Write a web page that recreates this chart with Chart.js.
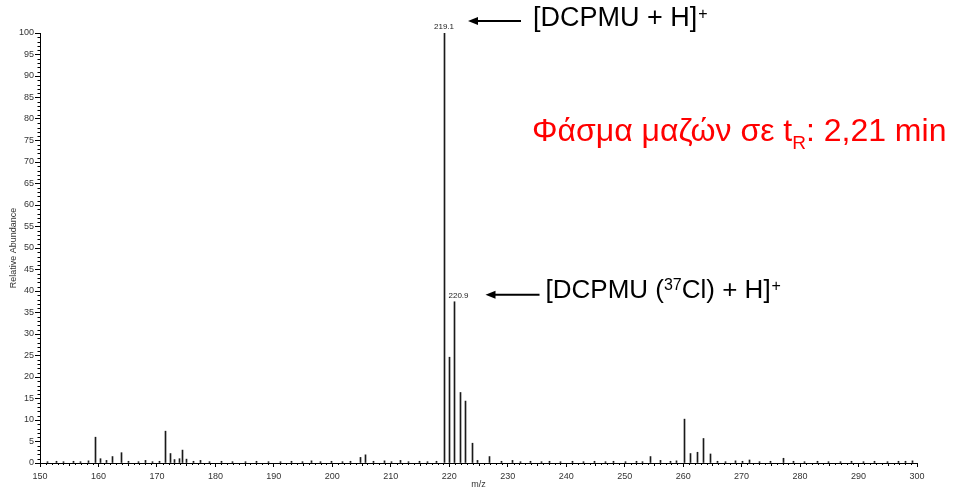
<!DOCTYPE html>
<html>
<head>
<meta charset="utf-8">
<script src="https://cdn.jsdelivr.net/npm/chart.js@4"></script>
<style>
html,body{margin:0;padding:0;background:#fff;}
canvas{display:block;}
</style>
</head>
<body>
<canvas id="c" width="953" height="491" style="width:953px;height:491px"></canvas>
<script>
// ---- data ----
const mzValues = [
  151.2, 152.9, 154.1, 155.8, 157.0, 158.3,
  159.5, 160.3, 161.3, 162.4, 164.0, 165.2, 166.9, 168.0, 169.2, 170.4,
  171.5, 172.4, 173.0, 173.8, 174.4, 175.1, 176.2, 177.5, 179.0, 181.1, 183.0, 185.2, 187.1, 189.0, 191.2, 193.1, 194.9, 196.4, 198.0, 199.9, 201.8, 203.1,
  204.8, 205.6, 207.1, 209.0, 210.1, 211.6, 213.0, 214.9, 216.2, 217.9,
  219.1, 220.1, 220.9, 222.0, 222.7, 223.9, 224.9, 226.8, 228.9, 230.8, 232.1, 233.9, 235.8, 237.2, 239.0, 241.1, 243.0, 244.9, 246.8, 248.1, 250.2, 252.0, 253.1,
  254.5, 256.2, 257.9, 258.8,
  260.3, 261.2, 262.4, 263.4, 264.6, 265.8, 267.2, 269.0, 270.1, 271.3, 273.0, 274.9, 277.2, 278.9, 280.8, 282.9, 284.8, 286.9, 288.8, 290.9, 292.8, 294.9, 296.8, 298.1, 299.2
];
const abundances = [
  0.3, 0.4, 0.3, 0.4, 0.3, 0.5,
  6.0, 1.0, 0.6, 1.5, 2.4, 0.4, 0.3, 0.6, 0.3, 0.4,
  7.4, 2.2, 0.8, 1.0, 3.0, 0.9, 0.4, 0.6, 0.3, 0.4, 0.3, 0.3, 0.4, 0.3, 0.3, 0.4, 0.3, 0.5, 0.3, 0.4, 0.3, 0.4,
  1.3, 1.9, 0.4, 0.5, 0.3, 0.6, 0.3, 0.4, 0.3, 0.4,
  100, 24.6, 37.5, 16.4, 14.4, 4.6, 0.6, 1.5, 0.4, 0.6, 0.3, 0.4, 0.3, 0.4, 0.3, 0.4, 0.3, 0.4, 0.3, 0.4, 0.3, 0.4, 0.3,
  1.5, 0.6, 0.4, 0.5,
  10.2, 2.2, 2.5, 5.7, 2.1, 0.4, 0.3, 0.5, 0.4, 0.7, 0.3, 0.4, 1.1, 0.4, 0.3, 0.4, 0.3, 0.3, 0.4, 0.3, 0.4, 0.3, 0.4, 0.4, 0.5
];
const xTickValues = [150,160,170,180,190,200,210,220,230,240,250,260,270,280,290,300];
const yTickValues = [0,5,10,15,20,25,30,35,40,45,50,55,60,65,70,75,80,85,90,95,100];
const labelledPeaks = [219.1, 220.9];
const labelledValues = [100, 37.5];
const annotationTexts = ['[DCPMU + H]', '[DCPMU (', '37', 'Cl) + H]'];
const titleMain = 'Φάσμα μαζών σε t';
const titleSub = 'R';
const titleTail = ': 2,21 min';

const FONT = '"Liberation Sans", Arial, sans-serif';

const crispBars = {
  id: 'crispBars',
  beforeDatasetsDraw(chart) {
    chart.getDatasetMeta(0).data.forEach(el => { el.x = Math.floor(el.x) + 0.5; });
  }
};

const minorTicks = {
  id: 'minorTicks',
  afterDraw(chart) {
    const {ctx, scales: {x, y}} = chart;
    ctx.save();
    ctx.strokeStyle = '#000';
    ctx.lineWidth = 1;
    ctx.beginPath();
    const left = Math.round(x.left) + 0.5;
    for (let v = 0; v <= 100; v++) {
      if (v % 5 === 0) continue;
      const py = Math.round(y.getPixelForValue(v)) + 0.5;
      ctx.moveTo(left - 3, py); ctx.lineTo(left, py);
    }
    const base = Math.round(y.getPixelForValue(0));
    for (let m = 150; m <= 300; m++) {
      if (m % 10 === 0) continue;
      const px = Math.round(x.getPixelForValue(m)) + 0.5;
      ctx.moveTo(px, base); ctx.lineTo(px, base + (m % 5 === 0 ? 3 : 2));
    }
    ctx.stroke();
    ctx.restore();
  }
};

function arrow(ctx, x1, x2, yy) {
  ctx.beginPath();
  ctx.lineWidth = 2;
  ctx.strokeStyle = '#000';
  ctx.moveTo(x2, yy); ctx.lineTo(x1 + 7, yy); ctx.stroke();
  ctx.beginPath();
  ctx.fillStyle = '#000';
  ctx.moveTo(x1, yy); ctx.lineTo(x1 + 10, yy - 4); ctx.lineTo(x1 + 10, yy + 4); ctx.closePath(); ctx.fill();
}

const annotations = {
  id: 'annotations',
  afterDraw(chart) {
    const {ctx, scales: {x, y}} = chart;
    ctx.save();
    // peak labels
    ctx.font = '8px ' + FONT;
    ctx.fillStyle = '#222';
    ctx.textAlign = 'center';
    ctx.textBaseline = 'alphabetic';
    const dx = [0, 4];
    labelledPeaks.forEach((m, i) => {
      ctx.fillText(m.toFixed(1), x.getPixelForValue(m) + dx[i], y.getPixelForValue(labelledValues[i]) - 4);
    });
    // arrows
    const p1 = x.getPixelForValue(labelledPeaks[0]);
    const p2 = x.getPixelForValue(labelledPeaks[1]);
    const y1 = y.getPixelForValue(labelledValues[0]) - 12;
    const y2 = y.getPixelForValue(labelledValues[1]) - 7;
    arrow(ctx, p1 + 24, p1 + 77, y1);
    arrow(ctx, p2 + 31, p2 + 85, y2);
    // annotation texts
    ctx.textAlign = 'left';
    ctx.fillStyle = '#000';
    let tx = p1 + 89;
    ctx.font = '27px ' + FONT;
    ctx.fillText(annotationTexts[0], tx, 26);
    tx += ctx.measureText(annotationTexts[0]).width + 1;
    ctx.font = '16px ' + FONT;
    ctx.fillText('+', tx, 19);

    tx = p2 + 91;
    ctx.font = '26px ' + FONT;
    ctx.fillText(annotationTexts[1], tx, 298);
    tx += ctx.measureText(annotationTexts[1]).width;
    ctx.font = '16px ' + FONT;
    ctx.fillText(annotationTexts[2], tx, 290);
    tx += ctx.measureText(annotationTexts[2]).width;
    ctx.font = '26px ' + FONT;
    ctx.fillText(annotationTexts[3], tx, 298);
    tx += ctx.measureText(annotationTexts[3]).width + 1;
    ctx.font = '16px ' + FONT;
    ctx.fillText('+', tx, 291);

    // red title
    ctx.fillStyle = '#ff0000';
    tx = 532;
    ctx.font = '32px ' + FONT;
    ctx.fillText(titleMain, tx, 141);
    tx += ctx.measureText(titleMain).width;
    ctx.font = '19px ' + FONT;
    ctx.fillText(titleSub, tx, 149);
    tx += ctx.measureText(titleSub).width;
    ctx.font = '32px ' + FONT;
    ctx.fillText(titleTail, tx, 141);
    ctx.restore();
  }
};

new Chart(document.getElementById('c'), {
  type: 'bar',
  data: {
    datasets: [{
      data: mzValues.map((m, i) => ({x: m, y: abundances[i]})),
      backgroundColor: '#1a1a1a',
      borderWidth: 0,
      barThickness: 1,
      grouped: false
    }]
  },
  options: {
    responsive: false,
    animation: false,
    devicePixelRatio: 1,
    layout: {padding: {top: 33, right: 36, left: 0, bottom: 0}},
    plugins: {legend: {display: false}, tooltip: {enabled: false}},
    scales: {
      x: {
        type: 'linear', min: 150, max: 300, offset: false,
        afterBuildTicks(s) { s.ticks = xTickValues.map(v => ({value: v})); },
        afterFit(s) { s.height = 28; },
        ticks: {autoSkip: false, maxRotation: 0, padding: 4, color: '#333', font: {family: FONT, size: 9}},
        grid: {drawOnChartArea: false, drawTicks: true, tickLength: 4, color: '#000', offset: false},
        border: {display: true, color: '#000'},
        title: {display: true, text: 'm/z', color: '#333', font: {family: FONT, size: 9}, padding: {top: 0, bottom: 1}}
      },
      y: {
        type: 'linear', min: 0, max: 100,
        afterBuildTicks(s) { s.ticks = yTickValues.map(v => ({value: v})); },
        afterFit(s) { s.width = 40; },
        ticks: {autoSkip: false, padding: 1, color: '#333', font: {family: FONT, size: 9}},
        grid: {drawOnChartArea: false, drawTicks: true, tickLength: 5, color: '#000'},
        border: {display: true, color: '#000'},
        title: {display: true, text: 'Relative Abundance', color: '#333', font: {family: FONT, size: 9}, padding: {top: 8, bottom: 0}}
      }
    }
  },
  plugins: [crispBars, minorTicks, annotations]
});
</script>
</body>
</html>
